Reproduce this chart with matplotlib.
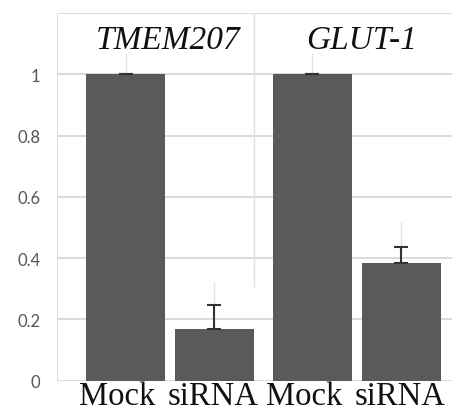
import matplotlib
matplotlib.use("Agg")
import matplotlib.pyplot as plt
from matplotlib.transforms import ScaledTranslation

categories = ["Mock", "siRNA", "Mock", "siRNA"]
values = [1.0, 0.168, 1.0, 0.385]
errors = [0.0, 0.078, 0.0, 0.05]
faint_errors = [0.07, 0.155, 0.07, 0.135]
groups = ["TMEM207", "GLUT-1"]
yticks = [0, 0.2, 0.4, 0.6, 0.8, 1.0]
ytick_labels = ["0", "0.2", "0.4", "0.6", "0.8", "1"]

positions = [0, 1, 2.1, 3.1]
group_pos = [0.48, 2.65]

fig = plt.figure(figsize=(4.57, 4.14), dpi=100)
ax = fig.add_axes([57/457, (414-381.7)/414, (452-57)/457, (381.7-14)/414])

# gridlines
for y in [0, 0.2, 0.4, 0.6, 0.8, 1.0, 1.2]:
    ax.axhline(y, color="#d4d4d4", lw=1.2, zorder=0)
ax.axvline(-0.77, color="#d4d4d4", lw=1.2, zorder=0)
ax.plot([1.44, 1.44], [0.31, 1.2], color="#e0e0e0", lw=1.0, zorder=0)

# faint ghost error bars
ax.errorbar(positions, values, yerr=[[0]*4, faint_errors], fmt="none",
            ecolor="#e2e2e2", elinewidth=1.0, capsize=0, zorder=1)

ax.bar(positions, values, width=0.89, color="#5a5a5a", zorder=2)
ax.errorbar(positions, values, yerr=[[0]*4, errors], fmt="none",
            ecolor="#333333", elinewidth=1.5, capsize=5, capthick=1.5, zorder=3)

for gp, g in zip(group_pos, groups):
    ax.text(gp, 1.112, g, ha="center", va="center", fontsize=24,
            family="Liberation Serif", style="italic", color="#111111")

ax.set_xlim(-0.77, 3.67)
ax.set_ylim(0, 1.2)
ax.set_yticks(yticks)
ax.set_yticklabels(ytick_labels, family="Lato", fontsize=12, color="#555555")
ax.set_xticks(positions)
ax.set_xticklabels(categories, family="Liberation Serif", fontsize=23.5, color="#111111")
ax.tick_params(axis="both", length=0)
ax.tick_params(axis="y", pad=12)
ax.tick_params(axis="x", pad=0)
for lbl in ax.get_xticklabels():
    dx = -6/72 if lbl.get_text() == "Mock" else -1/72
    lbl.set_transform(lbl.get_transform() + ScaledTranslation(dx, 0, fig.dpi_scale_trans))
for s in ax.spines.values():
    s.set_visible(False)

fig.savefig("out.png", dpi=100)
